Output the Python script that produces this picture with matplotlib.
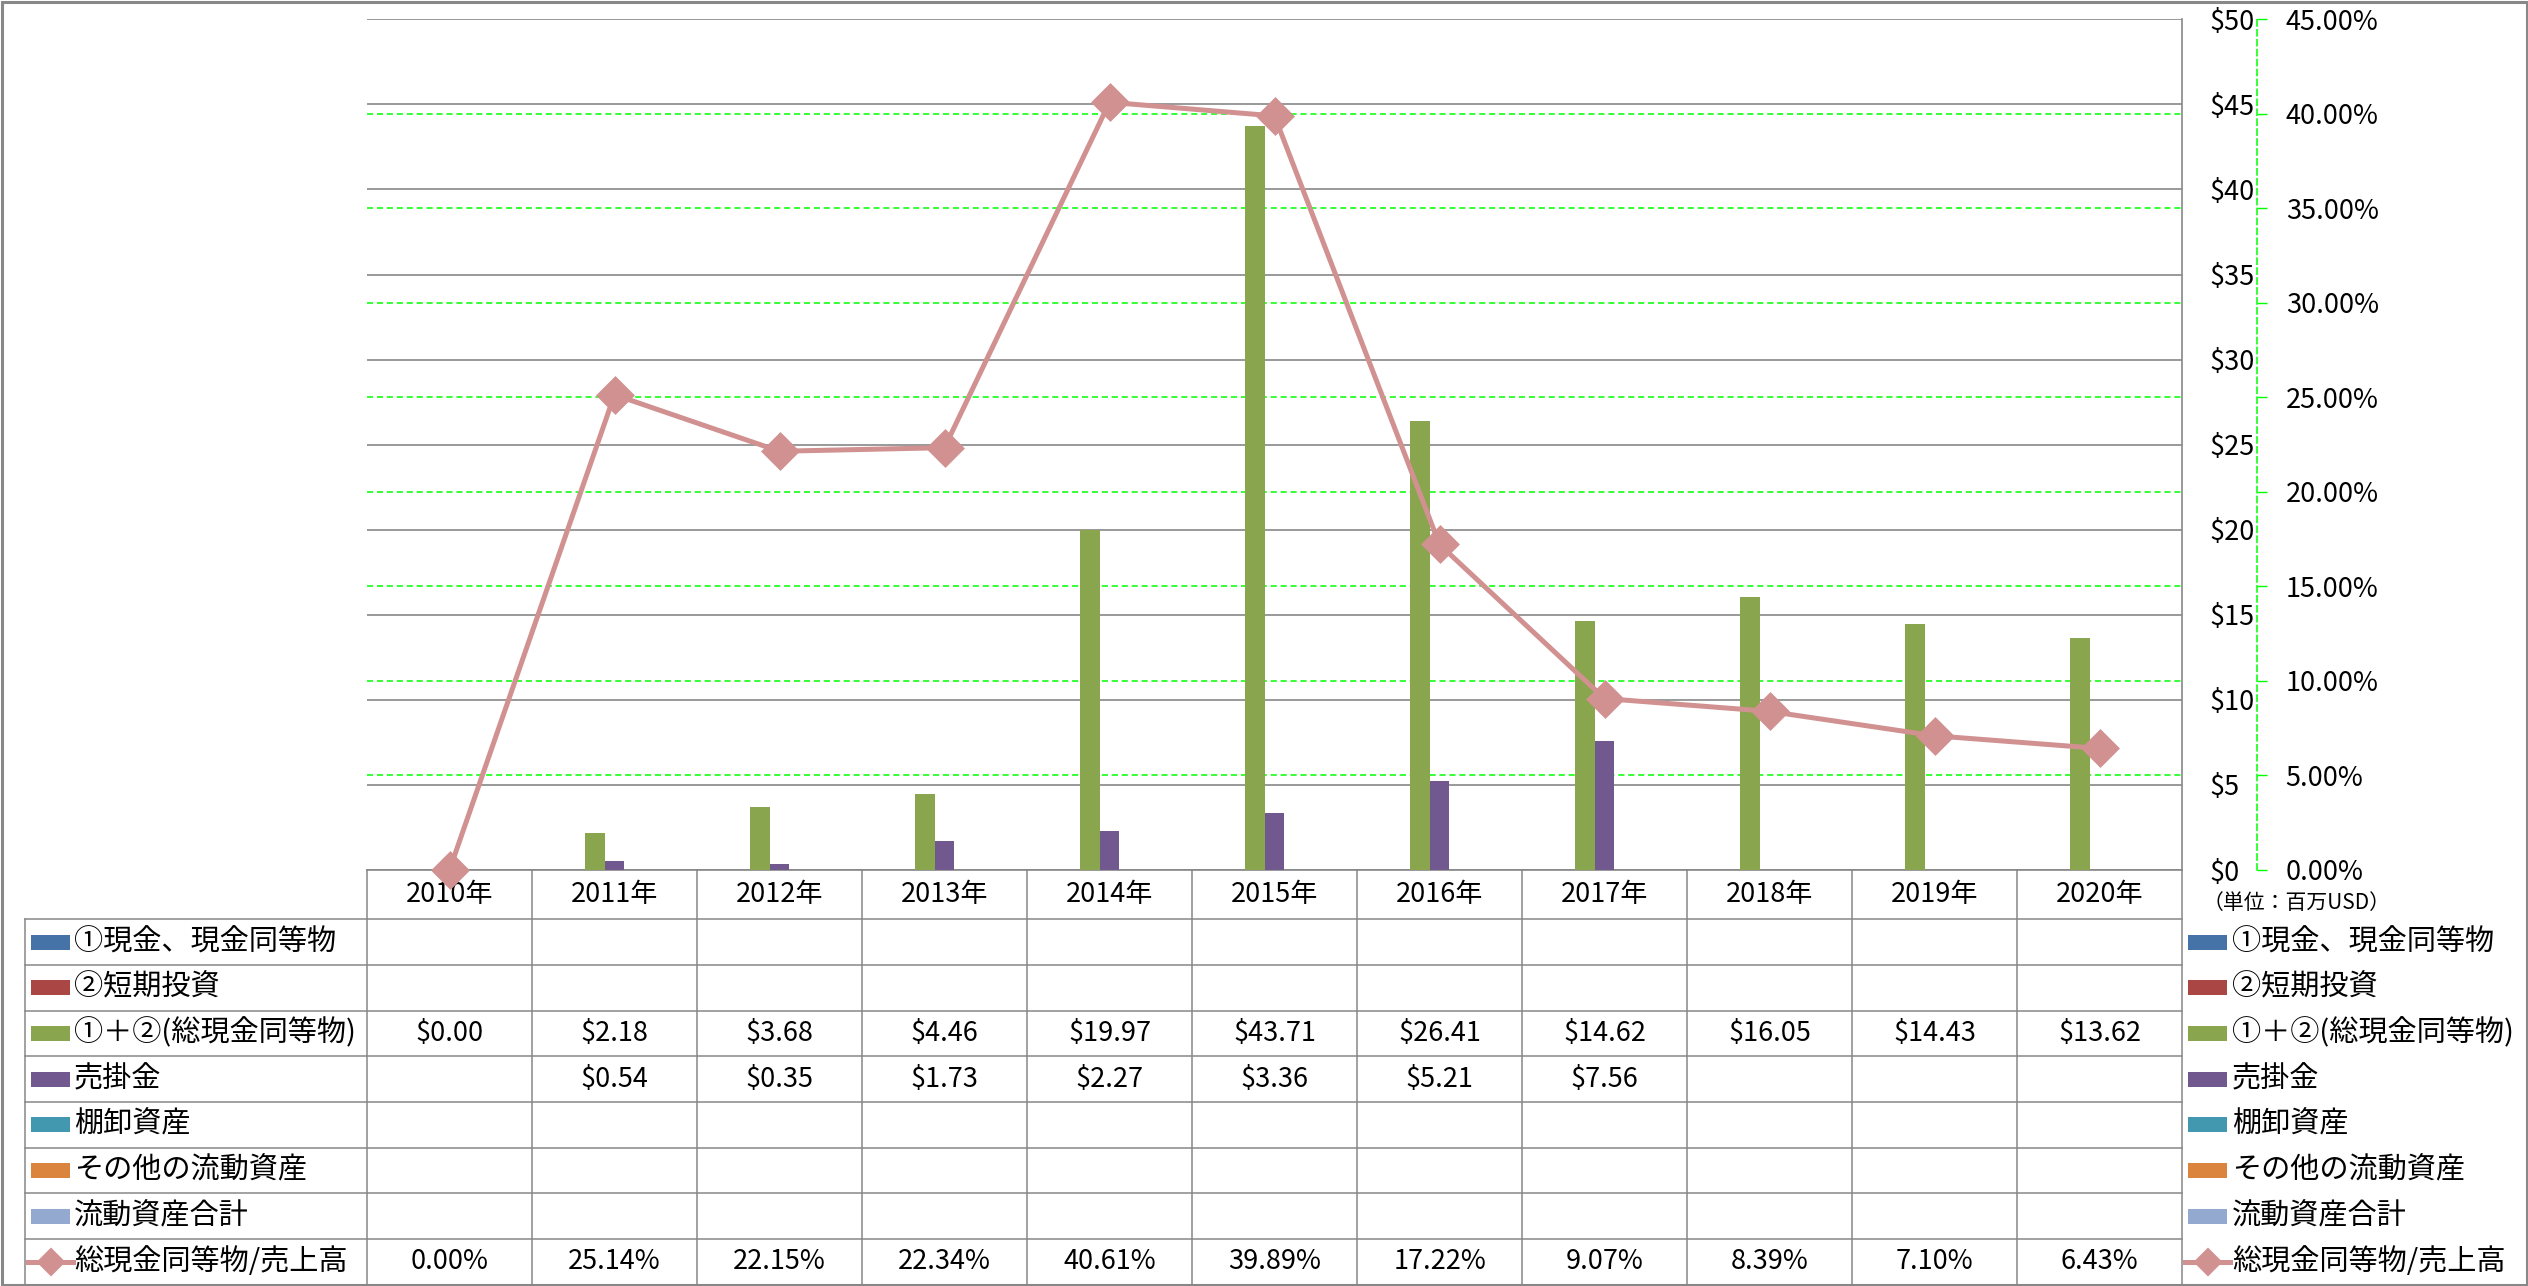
import numpy as np
import matplotlib
matplotlib.use("Agg")
import matplotlib.pyplot as plt
from matplotlib.patches import Rectangle
from matplotlib.ticker import FuncFormatter, MultipleLocator
from matplotlib.transforms import blended_transform_factory

plt.rcParams['font.family'] = ['Noto Sans CJK JP', 'DejaVu Sans']

# ---------------- data ----------------
years = ['2010年', '2011年', '2012年', '2013年', '2014年', '2015年',
         '2016年', '2017年', '2018年', '2019年', '2020年']
series_names = ['①現金、現金同等物', '②短期投資', '①＋②(総現金同等物)', '売掛金',
                '棚卸資産', 'その他の流動資産', '流動資産合計']
cash = [None, None, None, None, None, None, None, None, None, None, None]
short_inv = [None, None, None, None, None, None, None, None, None, None, None]
total_cash = [0.00, 2.18, 3.68, 4.46, 19.97, 43.71, 26.41, 14.62, 16.05, 14.43, 13.62]
receivables = [None, 0.54, 0.35, 1.73, 2.27, 3.36, 5.21, 7.56, None, None, None]
inventory = [None, None, None, None, None, None, None, None, None, None, None]
other_ca = [None, None, None, None, None, None, None, None, None, None, None]
total_ca = [None, None, None, None, None, None, None, None, None, None, None]
ratio_name = '総現金同等物/売上高'
ratio_pct = [0.00, 25.14, 22.15, 22.34, 40.61, 39.89, 17.22, 9.07, 8.39, 7.10, 6.43]
unit_label = '（単位：百万USD）'

bar_colors = ['#4572A7', '#AA4643', '#89A54E', '#71588F', '#4198AF', '#DB843D', '#93A9CF']
line_color = '#D19191'
grid_grey = '#878787'
green = '#00FF00'

# ---------------- layout (pixels) ----------------
W, H = 2528, 1286
AX_L, AX_R, AX_T, AX_B = 367, 2182, 19.3, 870
fig = plt.figure(figsize=(W / 100, H / 100), dpi=100)

# full-figure pixel axes for table / legend / frame
axf = fig.add_axes([0, 0, 1, 1])
axf.set_xlim(0, W)
axf.set_ylim(H, 0)
axf.axis('off')
axf.set_zorder(0)

ax = fig.add_axes([AX_L / W, 1 - AX_B / H, (AX_R - AX_L) / W, (AX_B - AX_T) / H])
ax.set_zorder(1)
ax.patch.set_visible(False)
n = len(years)
x = np.arange(n)
ax.set_xlim(-0.5, n - 0.5)
ax.set_ylim(0, 50)

all_series = [cash, short_inv, total_cash, receivables, inventory, other_ca, total_ca]
nser = len(all_series)
bw = 0.827 / nser
for i, (vals, col) in enumerate(zip(all_series, bar_colors)):
    v = np.array([np.nan if a is None else a for a in vals], dtype=float)
    ax.bar(x + (i - (nser - 1) / 2) * bw, v, width=bw, color=col, zorder=2)

# secondary axis
ax2 = ax.twinx()
ax2.set_zorder(2)
ax2.set_ylim(0, 45)
ax2.yaxis.set_major_locator(MultipleLocator(5))
ax2.yaxis.set_major_formatter(FuncFormatter(lambda v, p: f'{v:.2f}%'))
for s in ['top', 'left', 'bottom']:
    ax2.spines[s].set_visible(False)
ax2.spines['right'].set_position(('axes', 1 + 75 / (AX_R - AX_L)))
ax2.spines['right'].set_color(green)
ax2.spines['right'].set_linestyle((0, (4, 2.5)))
ax2.spines['right'].set_linewidth(1.1)
ax2.tick_params(axis='y', direction='out', length=7.2, width=1.0, color=green,
                pad=13.5, labelsize=19.5)

# primary axis styling (after twinx, which moves ticks to the left)
ax.yaxis.set_major_locator(MultipleLocator(5))
ax.yaxis.tick_right()
ax.yaxis.set_label_position('right')
ax.yaxis.set_major_formatter(FuncFormatter(lambda v, p: f'${v:.0f}'))
ax.tick_params(axis='y', which='both', left=False, labelleft=False,
               right=True, labelright=True, length=0, pad=20, labelsize=19.5)
ax.set_xticks([])
ax.grid(axis='y', color=grid_grey, lw=1.2)
ax.set_axisbelow(True)
for s in ['top', 'left', 'bottom']:
    ax.spines[s].set_visible(False)
ax.spines['right'].set_color(grid_grey)
ax.spines['right'].set_linewidth(1.2)

# green dashed secondary gridlines (drawn behind bars on primary axes)
trans = blended_transform_factory(ax.transAxes, ax2.transData)
for v in ax2.get_yticks():
    if 0 < v < 45:
        ax.plot([0, 1], [v, v], transform=trans, color=green, lw=1.1,
                ls=(0, (4, 2.5)), zorder=0.4)

ax2.plot(x, ratio_pct, color=line_color, lw=3.6, marker='D', ms=17,
         mfc=line_color, mec=line_color, mew=2.5, solid_joinstyle='round',
         clip_on=False, zorder=5)

# ---------------- data table ----------------
def colx(i):
    return ax.transData.transform((i, 0))[0]

xb = [colx(i - 0.5) for i in range(n + 1)]
xc = [colx(i) for i in range(n)]
header_h = 49.3
row_h = 45.65
row_edges = [AX_B, AX_B + header_h] + [AX_B + header_h + row_h * k for k in range(1, 9)]
LBL_L = 25
lw_t = 1.1
axf.plot([AX_L, AX_R], [row_edges[0], row_edges[0]], color=grid_grey, lw=1.2)
for y in row_edges[1:]:
    axf.plot([LBL_L, AX_R], [y, y], color=grid_grey, lw=lw_t)
for xv in xb:
    axf.plot([xv, xv], [row_edges[0], row_edges[-1]], color=grid_grey, lw=lw_t)
axf.plot([LBL_L, LBL_L], [row_edges[1], row_edges[-1]], color=grid_grey, lw=lw_t)

hy = (row_edges[0] + row_edges[1]) / 2
for i, yr in enumerate(years):
    axf.text(xc[i], hy, yr, ha='center', va='center', fontsize=19.5)

row_labels = series_names + [ratio_name]
row_values = all_series + [ratio_pct]
for r, (lab, vals) in enumerate(zip(row_labels, row_values)):
    yc = (row_edges[r + 1] + row_edges[r + 2]) / 2
    is_line = r == len(row_labels) - 1
    for i, v in enumerate(vals):
        if v is None:
            continue
        txt = f'{v:.2f}%' if is_line else f'${v:.2f}'
        axf.text(xc[i], yc, txt, ha='center', va='center', fontsize=19.5)
    # left labels + keys, right legend
    for kx, tx in [(31, 74), (2188, 2232)]:
        if is_line:
            axf.plot([kx - 3, kx + 42], [yc, yc], color=line_color, lw=3.6)
            axf.plot([kx + 19.5], [yc], marker='D', ms=13, color=line_color,
                     mec=line_color, mew=1.5)
        else:
            axf.add_patch(Rectangle((kx, yc - 7.5), 39, 15, color=bar_colors[r], lw=0))
        axf.text(tx, yc, lab, ha='left', va='center', fontsize=21)

axf.text(2203, 903, unit_label, ha='left', va='center', fontsize=15)

# outer frame
axf.add_patch(Rectangle((1.5, 1.5), W - 3, H - 3, fill=False, ec='#888888', lw=2.2))

fig.savefig('out.png', dpi=100)
